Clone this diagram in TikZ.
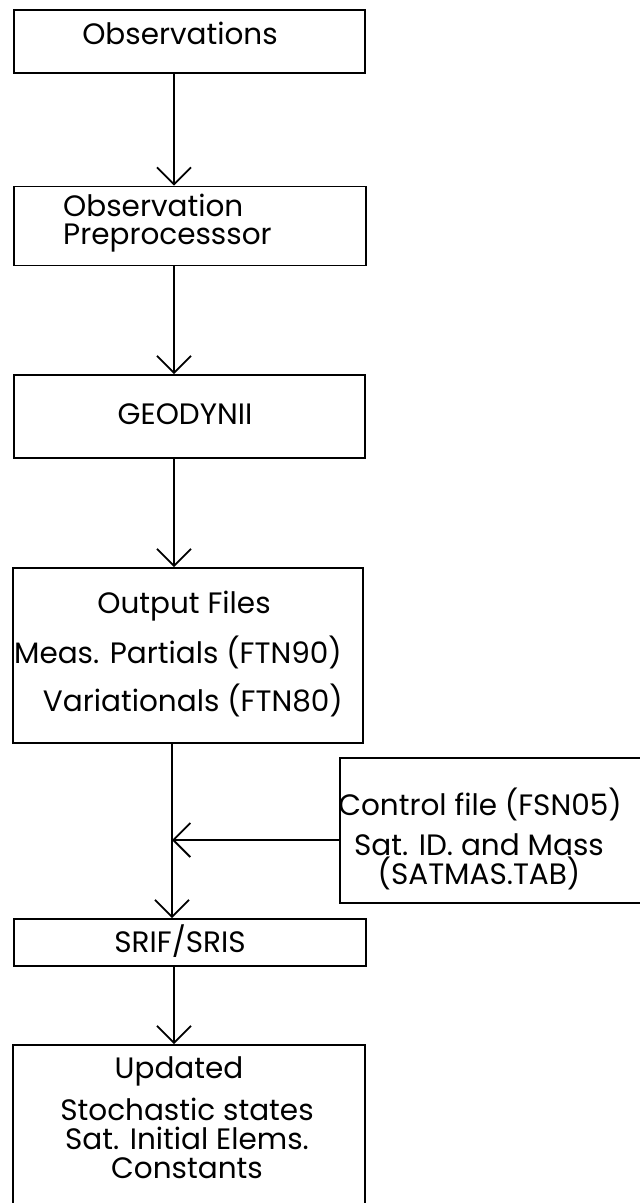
\documentclass[tikz,border=0pt]{standalone}
\usepackage{fontspec}
\setmainfont{Poppins}
\usepackage{tikz}
\usetikzlibrary{arrows.meta}
\usetikzlibrary{calc}
\tikzstyle{procblock} = [rectangle, draw, line width=1.8pt, inner sep=0pt]
\tikzstyle{lbl} = [inner sep=0pt, font=\fontsize{29.5}{25}\selectfont]
\tikzstyle{line} = [draw, line width=1.8pt, -{Straight Barb[length=17pt, width=34pt, line width=1.8pt]}]

\begin{document}
\begin{tikzpicture}[x=1pt, y=-1pt]
    \useasboundingbox (0,0) rectangle (640,1203);
    \clip (0,0) rectangle (640,1203);
    % Place nodes
    \node [procblock, minimum width=351pt, minimum height=63pt] (obs) at (189.5,41.5) {};
    \node [procblock, minimum width=352pt, minimum height=79pt] (prep) at (190,226) {};
    \node [procblock, minimum width=351pt, minimum height=83pt] (geo) at (189.5,416.5) {};
    \node [procblock, minimum width=350pt, minimum height=175pt] (out) at (188,655.5) {};
    \node [procblock, minimum width=340pt, minimum height=145pt] (ctl) at (510,830.5) {};
    \node [procblock, minimum width=352pt, minimum height=47pt] (srif) at (190,942.5) {};
    \node [procblock, minimum width=352pt, minimum height=190pt] (upd) at (189,1140) {};
    % Texts
    \node [lbl] (obstxt) at (180,33) {Observations};
    \node [lbl, align=left, anchor=west, font=\fontsize{29.5}{27.5}\selectfont] (preptxt) at (63,223) {Observation\\Preprocesssor};
    \node [lbl] (geotxt) at (185,414) {GEODYNII};
    \node [lbl] (outtxt) at (184,606) {Output Files};
    \node [lbl, anchor=east] (meastxt) at (342,652) {Meas. Partials (FTN90)};
    \node [lbl, anchor=east] (vartxt) at (343,700) {Variationals (FTN80)};
    \node [lbl] (ctltxt) at (480,804) {Control file (FSN05)};
    \node [lbl, align=center] (sattxt) at (479,862) {Sat. ID. and Mass\\(SATMAS.TAB)};
    \node [lbl] (sriftxt) at (180,941) {SRIF/SRIS};
    \node [lbl] (updtxt) at (179,1071) {Updated};
    \node [lbl, align=center, font=\fontsize{29.5}{29}\selectfont] (statetxt) at (187,1138) {Stochastic states\\Sat. Initial Elems.\\Constants};
    % Draw edges
    \coordinate (axis) at (174,0);
    \coordinate (join) at (172,840);
    \path [line] (obs.south -| axis) -- (prep.north -| axis);
    \path [line] (prep.south -| axis) -- (geo.north -| axis);
    \path [line] (geo.south -| axis) -- (out.north -| axis);
    \path [line] (out.south -| join) -- (srif.north -| join);
    \path [line] (ctl.west |- join) -- (join);
    \path [line] (srif.south -| axis) -- (upd.north -| axis);
\end{tikzpicture}
\end{document}
